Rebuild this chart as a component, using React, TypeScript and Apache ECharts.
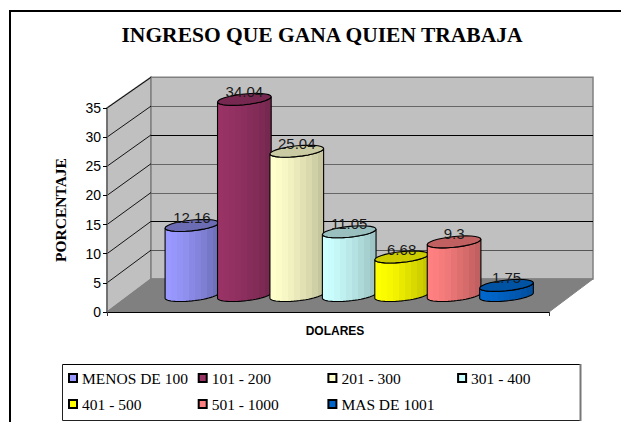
import React, { useEffect, useRef } from "react";
import * as echarts from "echarts";

const titleText = "INGRESO QUE GANA QUIEN TRABAJA";
const categories = ["MENOS DE 100", "101 - 200", "201 - 300", "301 - 400", "401 - 500", "501 - 1000", "MAS DE 1001"];
const values = [12.16, 34.04, 25.04, 11.05, 6.68, 9.3, 1.75];
const ticks = [0, 5, 10, 15, 20, 25, 30, 35];
const lightColors = ["#9999ff", "#993366", "#ffffcc", "#ccffff", "#ffff00", "#ff8080", "#0066cc"];
const darkColors = ["#7070bb", "#772850", "#c6c69e", "#9ec6c6", "#c6c600", "#c06060", "#004f9e"];
const topColors = ["#6c6cb4", "#772850", "#cbcba3", "#99bfbf", "#cccc00", "#c06060", "#0052a3"];
const gridColors = ["#808080", "#555555", "#000000", "#666666", "#666666", "#000000", "#666666", "#808080"];

const X_MIN = -1.2;
const X_MAX = 7.23;
const Y_BACK_MAX = 35.4;
const DEPTH = [44, -33];
const pageFont = "'Liberation Sans', Arial, sans-serif";
const serifFont = "'Liberation Serif', 'Times New Roman', serif";

function ellipseArc(cx: number, cy: number, from: number, to: number) {
  const a = 24, dx = 12, dy = -6, n = 28;
  const out: number[][] = [];
  for (let i = 0; i <= n; i++) {
    const t = from + ((to - from) * i) / n;
    out.push([cx + Math.cos(t) * a + Math.sin(t) * dx, cy + Math.sin(t) * dy]);
  }
  return out;
}

function bandStops(light: string, dark: string) {
  const c1 = echarts.color.parse(light);
  const c2 = echarts.color.parse(dark);
  const n = 9;
  const stops: any[] = [];
  for (let i = 0; i < n; i++) {
    const k = Math.pow(i / (n - 1), 1.4);
    const col = `rgb(${[0, 1, 2].map((j) => Math.round(c1[j] + (c2[j] - c1[j]) * k)).join(",")})`;
    stops.push({ offset: i / n, color: col }, { offset: (i + 1) / n, color: col });
  }
  return stops;
}

function renderWalls(_p: any, api: any) {
  const ratio = Y_BACK_MAX / 35;
  const f0 = api.coord([X_MIN, 0]);
  const f35 = api.coord([X_MIN, 35 * ratio]);
  const fr = api.coord([X_MAX, 0]);
  const b0 = [api.coord([X_MIN, 0])[0] + DEPTH[0], f0[1] + DEPTH[1]];
  const b35 = api.coord([X_MIN, 35]);
  b35[0] += DEPTH[0];
  b35[1] += DEPTH[1];
  const br = [fr[0] + DEPTH[0], fr[1] + DEPTH[1]];
  const wall = { fill: "#c0c0c0", stroke: "#808080", lineWidth: 1.5 };
  return {
    type: "group",
    children: [
      { type: "polygon", shape: { points: [f0, b0, b35, f35] }, style: wall },
      { type: "polygon", shape: { points: [b0, br, [br[0], b35[1]], b35] }, style: wall },
      { type: "polygon", shape: { points: [f0, b0, br, fr] }, style: { fill: "#808080", stroke: "#808080", lineWidth: 1 } },
    ],
  };
}

function renderGrid(_p: any, api: any) {
  const ratio = Y_BACK_MAX / 35;
  const v = api.value(0);
  const i = ticks.indexOf(v);
  const front = api.coord([X_MIN, v * ratio]);
  const back = api.coord([X_MIN, v]);
  const bx = back[0] + DEPTH[0];
  const by = back[1] + DEPTH[1];
  const right = api.coord([X_MAX, v])[0] + DEPTH[0];
  if (v === 0) return { type: "group", children: [] };
  return {
    type: "group",
    children: [
      { type: "line", shape: { x1: front[0], y1: front[1], x2: bx, y2: by }, style: { stroke: "#000", lineWidth: 0.9 } },
      { type: "line", shape: { x1: bx, y1: Math.round(by) + 0.5, x2: right, y2: Math.round(by) + 0.5 }, style: { stroke: gridColors[i], lineWidth: 1 } },
    ],
  };
}

function renderBar(_p: any, api: any) {
  const idx = api.value(0);
  const val = api.value(1);
  const base = api.coord([idx, 0]);
  const top = api.coord([idx, val]);
  const ox = DEPTH[0] / 2;
  const oy = DEPTH[1] / 2;
  const cx = base[0] + ox;
  const by = base[1] + oy;
  const ty = top[1] + oy;
  const t0 = Math.atan2(12, 24);
  const frontBase = ellipseArc(cx, by, t0 + Math.PI, t0 + 2 * Math.PI);
  const frontTop = ellipseArc(cx, ty, t0 + 2 * Math.PI, t0 + Math.PI);
  const whole = ellipseArc(cx, ty, 0, 2 * Math.PI);
  return {
    type: "group",
    children: [
      {
        type: "polygon",
        shape: { points: frontBase.concat(frontTop) },
        style: {
          fill: new echarts.graphic.LinearGradient(0, 0, 1, 0, bandStops(lightColors[idx], darkColors[idx])),
          stroke: "#000",
          lineWidth: 1.1,
        },
      },
      {
        type: "polygon",
        shape: { points: whole },
        style: { fill: topColors[idx], stroke: "#000", lineWidth: 1.1 },
      },
      {
        type: "text",
        z2: 100,
        style: {
          x: cx,
          y: ty - 8,
          text: String(val),
          fill: "#1a1a1a",
          font: `15px ${pageFont}`,
          align: "center",
          verticalAlign: "middle",
        },
      },
    ],
  };
}

export default function App() {
  const ref = useRef<HTMLDivElement>(null);
  useEffect(() => {
    if (!ref.current) return;
    const chart = echarts.init(ref.current, undefined, { renderer: "svg" });
    chart.setOption({
      animation: false,
      backgroundColor: "#ffffff",
      title: {
        text: titleText,
        left: 322,
        top: 24,
        textAlign: "center",
        padding: 0,
        textStyle: { fontFamily: serifFont, fontWeight: "bold", fontSize: 21.5, color: "#000" },
      },
      grid: { left: 107, top: 108, width: 442, height: 204 },
      xAxis: {
        type: "value",
        min: X_MIN,
        max: X_MAX,
        z: 3,
        name: "DOLARES",
        nameLocation: "middle",
        nameGap: 13,
        nameTextStyle: { fontFamily: pageFont, fontWeight: "bold", fontSize: 12, color: "#000", padding: [0, 0, 0, 14] },
        axisLine: { show: true, onZero: false, lineStyle: { color: "#000", width: 1 } },
        axisTick: { show: true, length: 4, customValues: [X_MIN, X_MAX], lineStyle: { color: "#333" } },
        axisLabel: { show: false },
        splitLine: { show: false },
      },
      yAxis: [
        {
          type: "value",
          min: 0,
          max: 35,
          interval: 5,
          z: 3,
          name: "PORCENTAJE",
          nameLocation: "middle",
          nameRotate: 90,
          nameGap: 39,
          nameTextStyle: { fontFamily: serifFont, fontWeight: "bold", fontSize: 15.5, color: "#000" },
          axisLine: { show: true, onZero: false, lineStyle: { color: "#666", width: 1.5 } },
          axisTick: { show: true, length: 4, lineStyle: { color: "#000" } },
          axisLabel: { margin: 6, fontFamily: pageFont, fontSize: 14, color: "#000" },
          splitLine: { show: false },
        },
        { type: "value", min: 0, max: Y_BACK_MAX, show: false, axisLine: { onZero: false }, splitLine: { show: false } },
      ],
      legend: {
        left: 62,
        top: 364,
        width: 530,
        padding: [1, 0, 0, 6],
        itemGap: 0,
        itemWidth: 8,
        itemHeight: 8,
        icon: "rect",
        selectedMode: false,
        data: categories,
        textStyle: { fontFamily: serifFont, fontSize: 15.5, color: "#000", width: 115.7, height: 26, lineHeight: 26, overflow: "none" },
      },
      graphic: [
        {
          type: "polyline",
          shape: { points: [[10, 422], [10, 11], [621, 11]] },
          style: { fill: "none", stroke: "#000", lineWidth: 2 },
        },
        {
          type: "polyline",
          shape: { points: [[62.5, 364.5], [580, 364.5]] },
          style: { fill: "none", stroke: "#000", lineWidth: 1 },
        },
        {
          type: "polyline",
          shape: { points: [[62.5, 364.5], [62.5, 420.5], [580, 420.5]] },
          style: { fill: "none", stroke: "#222", lineWidth: 1 },
        },
        {
          type: "line",
          shape: { x1: 580.5, y1: 364, x2: 580.5, y2: 421 },
          style: { stroke: "#777", lineWidth: 2 },
        },
      ],
      series: [
        { type: "custom", name: "_walls", yAxisIndex: 1, renderItem: renderWalls, data: [[0]], silent: true, clip: false, z: 1 },
        { type: "custom", name: "_grid", yAxisIndex: 1, renderItem: renderGrid, data: ticks.map((t) => [t]), encode: { x: -1, y: 0 }, silent: true, clip: false, z: 1 },
        ...categories.map((name, i) => ({
          type: "custom",
          name,
          yAxisIndex: 1,
          renderItem: renderBar,
          data: [[i, values[i]]],
          clip: false,
          z: 2,
          itemStyle: { color: lightColors[i], borderColor: "#000", borderWidth: 1 },
        })),
      ],
    });
    return () => chart.dispose();
  }, []);
  return <div ref={ref} style={{ position: "absolute", left: 0, top: 0, width: 621, height: 422 }} />;
}
